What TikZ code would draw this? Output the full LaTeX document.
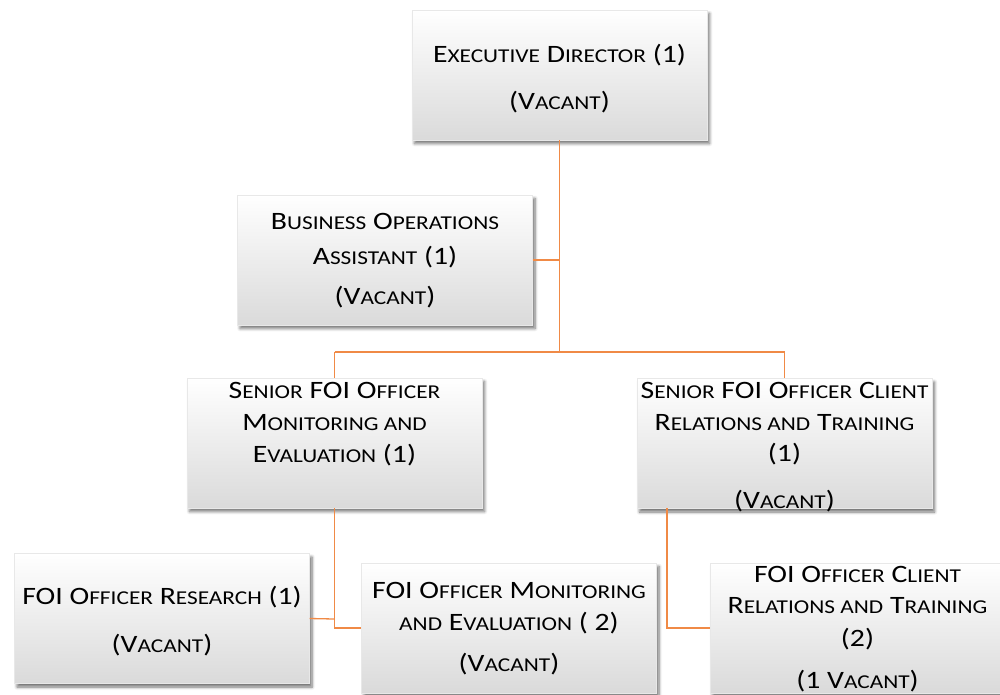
\documentclass[tikz,border=0pt]{standalone}
\usepackage{fontspec}
\setmainfont{Carlito}[FakeStretch=1.19]
\usetikzlibrary{shadows.blur}
\newcommand\smc[1]{{\fontsize{19.6pt}{20pt}\selectfont #1}}
\definecolor{conn}{RGB}{240,138,70}
\definecolor{boxbot}{RGB}{218,218,218}
\definecolor{boxedge}{RGB}{232,232,232}
\tikzset{
  box/.style={rectangle, draw=boxedge, line width=0.4pt, minimum width=295pt, minimum height=130pt,
    top color=white, middle color=white!98!black, bottom color=boxbot, inner sep=0pt,
    blur shadow={shadow xshift=2.5pt, shadow yshift=-3.5pt, shadow blur steps=6, shadow opacity=55, shadow blur radius=3pt}},
  txt/.style={anchor=base, inner sep=0pt, font=\fontsize{25pt}{30pt}\selectfont},
  link/.style={draw=conn, line width=1.3pt},
}
\begin{document}
\begin{tikzpicture}[x=1pt,y=-1pt]
\useasboundingbox (0,0) rectangle (1000,694);
\begin{scope}
\clip (0,0) rectangle (1000,694);
% connectors
\coordinate (busL) at (334.5,352);
\coordinate (busM) at (559.5,352);
\coordinate (busR) at (784.5,352);
\coordinate (boaJ) at (559.5,260);
\coordinate (mJ) at (334.5,628);
\coordinate (rJ) at (334.5,619);
\coordinate (cTop) at (667,508);
\coordinate (cJ) at (667,628);

% boxes
\node[box] (exec) at (559.5,75) {};
\node[box] (boa) at (385,260) {};
\node[box] (smfe) at (334.5,443) {};
\node[box] (scrt) at (784.5,443.5) {};
\node[box] (fr) at (162,618.5) {};
\node[box] (fme) at (509,628) {};
\node[box] (fcrt) at (857.5,628) {};

\draw[link] (exec.south) -- (busM);
\draw[link] (boa.east) -- (boaJ);
\draw[link] (busL) -- (busR);
\draw[link] (busL) -- (smfe.north);
\draw[link] (busR) -- (scrt.north);
\draw[link] (smfe.south) -- (mJ) -- (fme.west);
\draw[link] (fr.east) -- (rJ);
\draw[link] (cTop) -- (cJ) -- (fcrt.west);

% texts
\node[txt] (exec1) at (559.5,62) {E\smc{XECUTIVE} D\smc{IRECTOR} (1)};
\node[txt] (exec2) at (559.5,109) {(V\smc{ACANT})};

\node[txt] (boa1) at (385,229) {B\smc{USINESS} O\smc{PERATIONS}};
\node[txt] (boa2) at (385,264) {A\smc{SSISTANT} (1)};
\node[txt] (boa3) at (385,304) {(V\smc{ACANT})};

\node[txt] (smfe1) at (334.5,398) {S\smc{ENIOR} FOI O\smc{FFICER}};
\node[txt] (smfe2) at (334.5,430) {M\smc{ONITORING AND}};
\node[txt] (smfe3) at (334.5,462) {E\smc{VALUATION} (1)};

\node[txt] (scrt1) at (784.5,398) {S\smc{ENIOR} FOI O\smc{FFICER} C\smc{LIENT}};
\node[txt] (scrt2) at (784.5,430) {R\smc{ELATIONS AND} T\smc{RAINING}};
\node[txt] (scrt3) at (784.5,461) {(1)};
\node[txt] (scrt4) at (784.5,508) {(V\smc{ACANT})};

\node[txt] (fr1) at (162,604) {FOI O\smc{FFICER} R\smc{ESEARCH} (1)};
\node[txt] (fr2) at (162,652) {(V\smc{ACANT})};

\node[txt] (fme1) at (509,598) {FOI O\smc{FFICER} M\smc{ONITORING}};
\node[txt] (fme2) at (509,630) {\smc{AND} E\smc{VALUATION} ( 2)};
\node[txt] (fme3) at (509,671) {(V\smc{ACANT})};

\node[txt] (fcrt1) at (857.5,582) {FOI O\smc{FFICER} C\smc{LIENT}};
\node[txt] (fcrt2) at (857.5,613) {R\smc{ELATIONS AND} T\smc{RAINING}};
\node[txt] (fcrt3) at (857.5,646) {(2)};
\node[txt] (fcrt4) at (857.5,688) {(1 V\smc{ACANT})};
\end{scope}
\end{tikzpicture}
\end{document}
